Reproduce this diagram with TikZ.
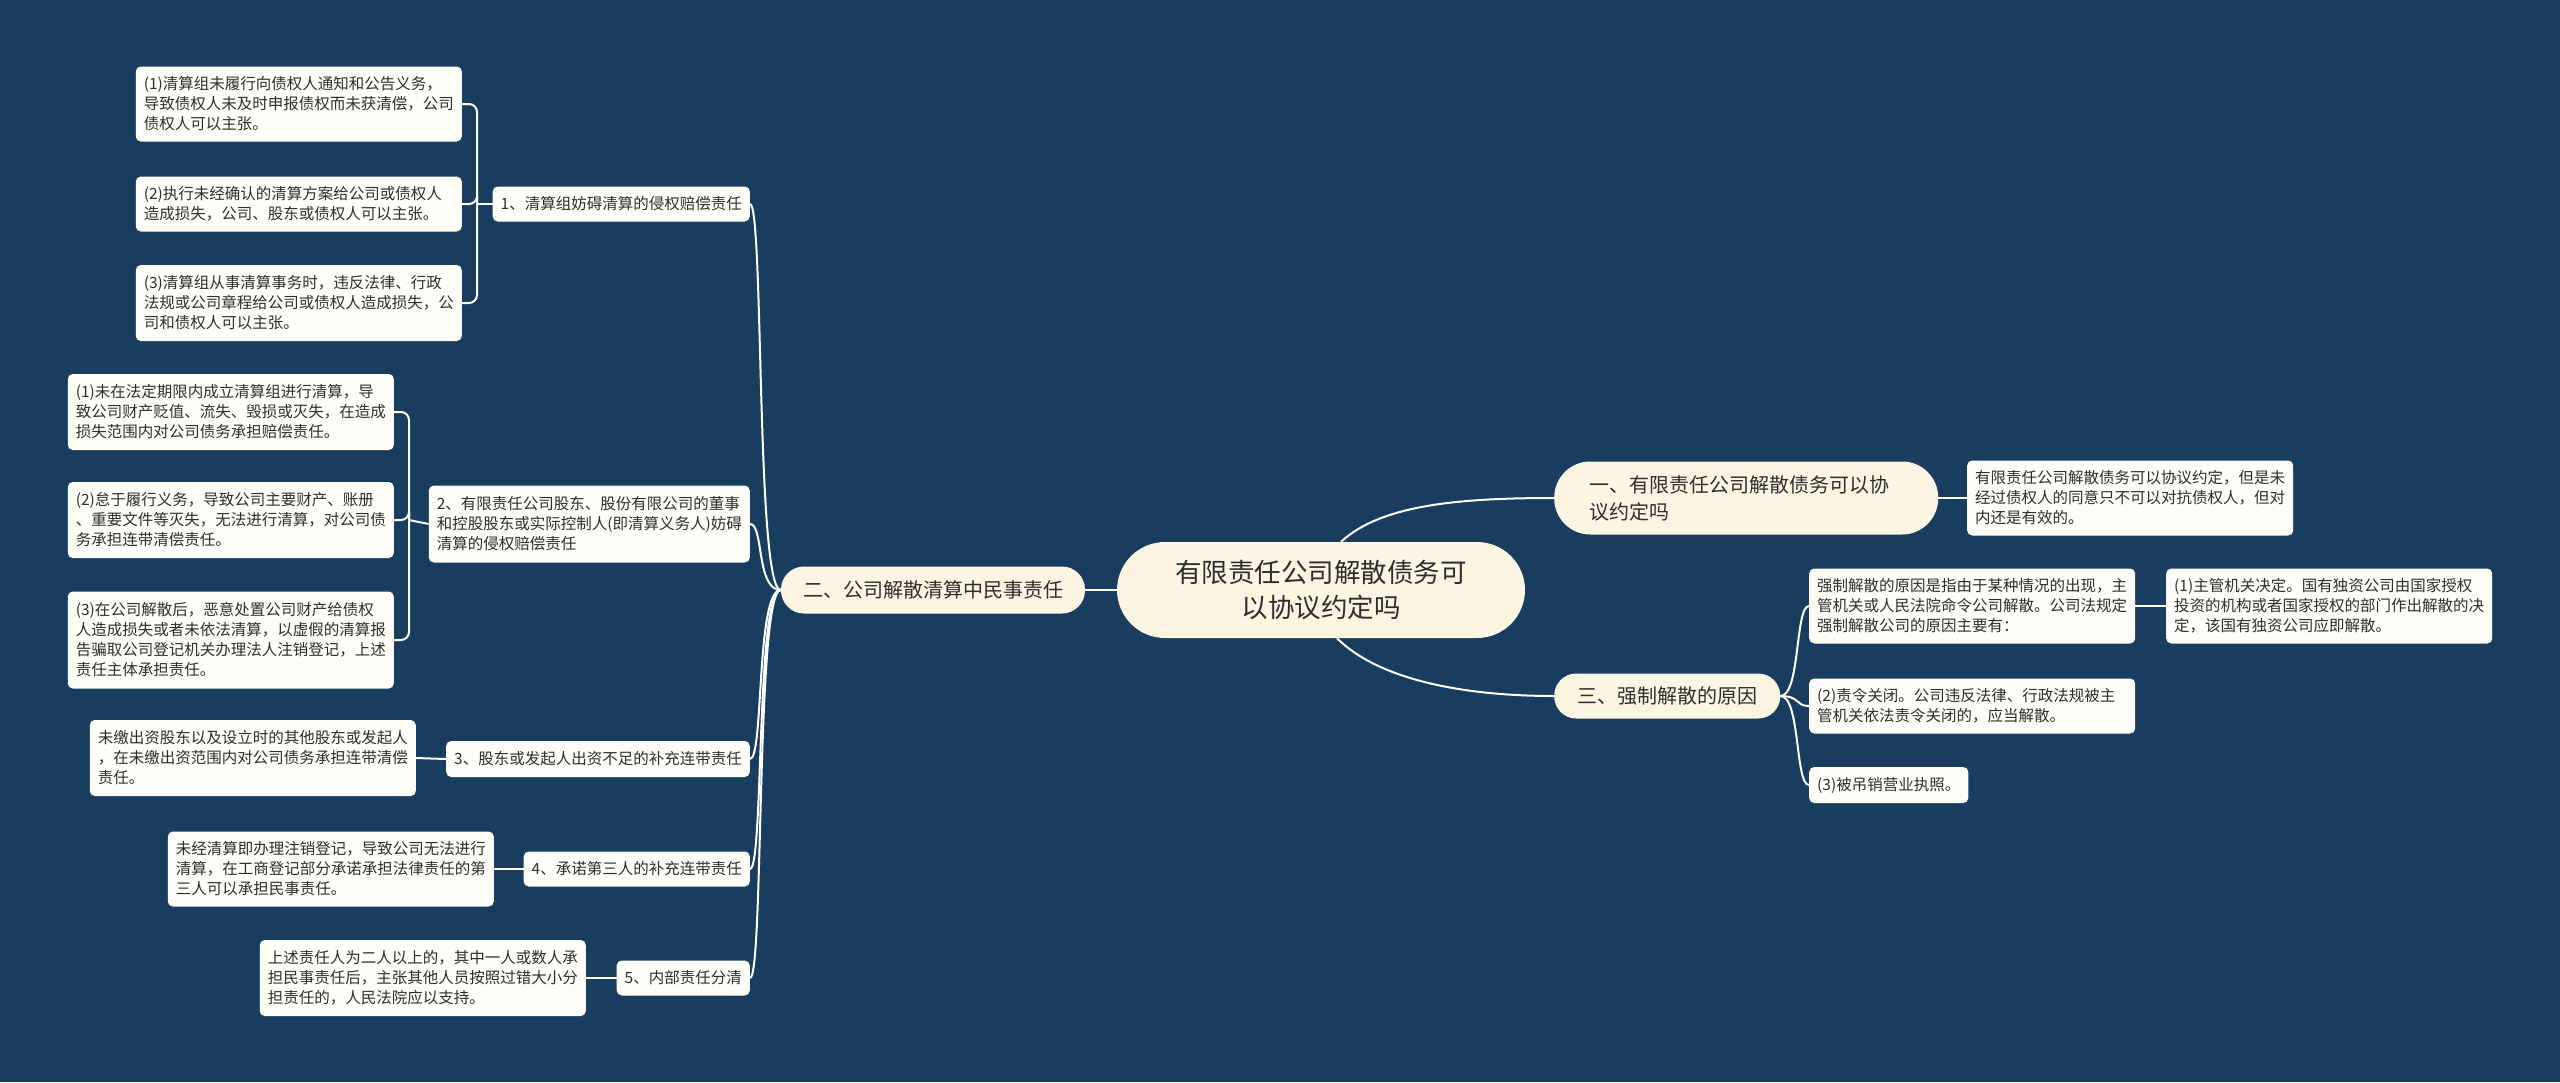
\documentclass[tikz,border=0pt]{standalone}
\usepackage{fontspec}
\newfontfamily\cjk{Noto Sans CJK SC}
\definecolor{bgc}{HTML}{193D5E}
\definecolor{leafc}{HTML}{FEFDF8}
\definecolor{creamc}{HTML}{FBF5E2}
\definecolor{txt}{HTML}{2E2E2E}
\tikzset{
  leaf/.style={fill=leafc, rounded corners=5pt, text=txt, font=\cjk\fontsize{15.5}{20}\selectfont, align=left, inner xsep=8pt, inner ysep=0pt},
  wleaf/.style={leaf, text width=310pt},
  branch/.style={fill=creamc, text=txt, font=\cjk\fontsize{20}{27}\selectfont, align=left, inner ysep=0pt},
  root/.style={fill=creamc, text=txt, font=\cjk\fontsize{26.5}{35}\selectfont, align=center, inner sep=0pt, rounded corners=48pt},
  link/.style={draw=white, line width=2pt},
  bracket/.style={draw=white, line width=2pt, rounded corners=8pt}
}
\begin{document}
\begin{tikzpicture}[x=1pt,y=-1pt]
\fill[bgc] (0,0) rectangle (2560,1082);
\useasboundingbox (0,0) rectangle (2560,1082);

% root
\node[root, minimum width=408pt, minimum height=96pt] (c) at (1321,590) {有限责任公司解散债务可\\以协议约定吗};

% main branches
\node[branch, anchor=west, minimum height=73pt, rounded corners=36pt, inner xsep=35pt, text width=314pt] (b1) at (1554,498) {一、有限责任公司解散债务可以协\\议约定吗};
\node[branch, minimum height=47pt, rounded corners=23pt, inner xsep=22pt] (b2) at (933,590) {二、公司解散清算中民事责任};
\node[branch, anchor=west, minimum height=45pt, rounded corners=22pt, inner xsep=23pt] (b3) at (1554,696) {三、强制解散的原因};

% right side
\node[wleaf, anchor=west, minimum height=75pt] (r1) at (1967,498) {有限责任公司解散债务可以协议约定，但是未\\经过债权人的同意只不可以对抗债权人，但对\\内还是有效的。};
\node[wleaf, anchor=west, minimum height=75pt] (rc1) at (1809,606) {强制解散的原因是指由于某种情况的出现，主\\管机关或人民法院命令公司解散。公司法规定\\强制解散公司的原因主要有：};
\node[wleaf, anchor=west, minimum height=75pt] (rc1a) at (2166,606) {(1)主管机关决定。国有独资公司由国家授权\\投资的机构或者国家授权的部门作出解散的决\\定，该国有独资公司应即解散。};
\node[wleaf, anchor=west, minimum height=55pt] (rc2) at (1809,706) {(2)责令关闭。公司违反法律、行政法规被主\\管机关依法责令关闭的，应当解散。};
\node[leaf, anchor=west, minimum height=36pt] (rc3) at (1809,785) {(3)被吊销营业执照。};

% left sub nodes
\node[leaf, anchor=east, minimum height=35pt] (s1) at (750,204) {1、清算组妨碍清算的侵权赔偿责任};
\node[leaf, anchor=east, minimum height=77pt] (s2) at (750,524) {2、有限责任公司股东、股份有限公司的董事\\和控股股东或实际控制人(即清算义务人)妨碍\\清算的侵权赔偿责任};
\node[leaf, anchor=east, minimum height=36pt] (s3) at (750,759) {3、股东或发起人出资不足的补充连带责任};
\node[leaf, anchor=east, minimum height=35pt] (s4) at (750,869) {4、承诺第三人的补充连带责任};
\node[leaf, anchor=east, minimum height=35pt] (s5) at (750,978) {5、内部责任分清};

% left leaves
\node[wleaf, anchor=east, minimum height=75pt] (l1a) at (462,104) {(1)清算组未履行向债权人通知和公告义务，\\导致债权人未及时申报债权而未获清偿，公司\\债权人可以主张。};
\node[wleaf, anchor=east, minimum height=55pt] (l1b) at (462,204) {(2)执行未经确认的清算方案给公司或债权人\\造成损失，公司、股东或债权人可以主张。};
\node[wleaf, anchor=east, minimum height=76pt] (l1c) at (462,303) {(3)清算组从事清算事务时，违反法律、行政\\法规或公司章程给公司或债权人造成损失，公\\司和债权人可以主张。};
\node[wleaf, anchor=east, minimum height=76pt] (l2a) at (394,412) {(1)未在法定期限内成立清算组进行清算，导\\致公司财产贬值、流失、毁损或灭失，在造成\\损失范围内对公司债务承担赔偿责任。};
\node[wleaf, anchor=east, minimum height=76pt] (l2b) at (394,520) {(2)怠于履行义务，导致公司主要财产、账册\\、重要文件等灭失，无法进行清算，对公司债\\务承担连带清偿责任。};
\node[wleaf, anchor=east, minimum height=97pt] (l2c) at (394,640) {(3)在公司解散后，恶意处置公司财产给债权\\人造成损失或者未依法清算，以虚假的清算报\\告骗取公司登记机关办理法人注销登记，上述\\责任主体承担责任。};
\node[wleaf, anchor=east, minimum height=76pt] (l3) at (416,758) {未缴出资股东以及设立时的其他股东或发起人\\，在未缴出资范围内对公司债务承担连带清偿\\责任。};
\node[wleaf, anchor=east, minimum height=75pt] (l4) at (494,869) {未经清算即办理注销登记，导致公司无法进行\\清算，在工商登记部分承诺承担法律责任的第\\三人可以承担民事责任。};
\node[wleaf, anchor=east, minimum height=76pt] (l5) at (586,978) {上述责任人为二人以上的，其中一人或数人承\\担民事责任后，主张其他人员按照过错大小分\\担责任的，人民法院应以支持。};

% root connectors
\draw[link] (c.west) -- (b2.east);
\draw[link] ([xshift=20pt]c.north) .. controls +(40,-37) and +(-95,0) .. (b1.west);
\draw[link] ([xshift=16pt]c.south) .. controls +(40,40) and +(-95,0) .. (b3.west);

% branch one
\draw[link] (b1.east) -- (r1.west);

% branch three
\foreach \t in {rc1,rc2,rc3}
  \draw[link] (b3.east) .. controls +(20,0) and +(-14,0) .. (\t.west);
\draw[link] (rc1.east) -- (rc1a.west);

% branch two
\foreach \t in {s1,s2,s3,s4,s5}
  \draw[link] (b2.west) .. controls +(-25,0) and +(14,0) .. (\t.east);

% sub 1 bracket
\coordinate (j1) at ([xshift=15pt]l1b.east);
\draw[link] (s1.west) -- (j1);
\foreach \t in {l1a,l1b,l1c}
  \draw[bracket] (\t.east) -| (j1);

% sub 2 bracket
\coordinate (j2) at ([xshift=15pt]l2b.east);
\draw[link] (s2.west) -- (j2);
\foreach \t in {l2a,l2b,l2c}
  \draw[bracket] (\t.east) -| (j2);

\draw[link] (s3.west) -- (l3.east);
\draw[link] (s4.west) -- (l4.east);
\draw[link] (s5.west) -- (l5.east);
\end{tikzpicture}
\end{document}
